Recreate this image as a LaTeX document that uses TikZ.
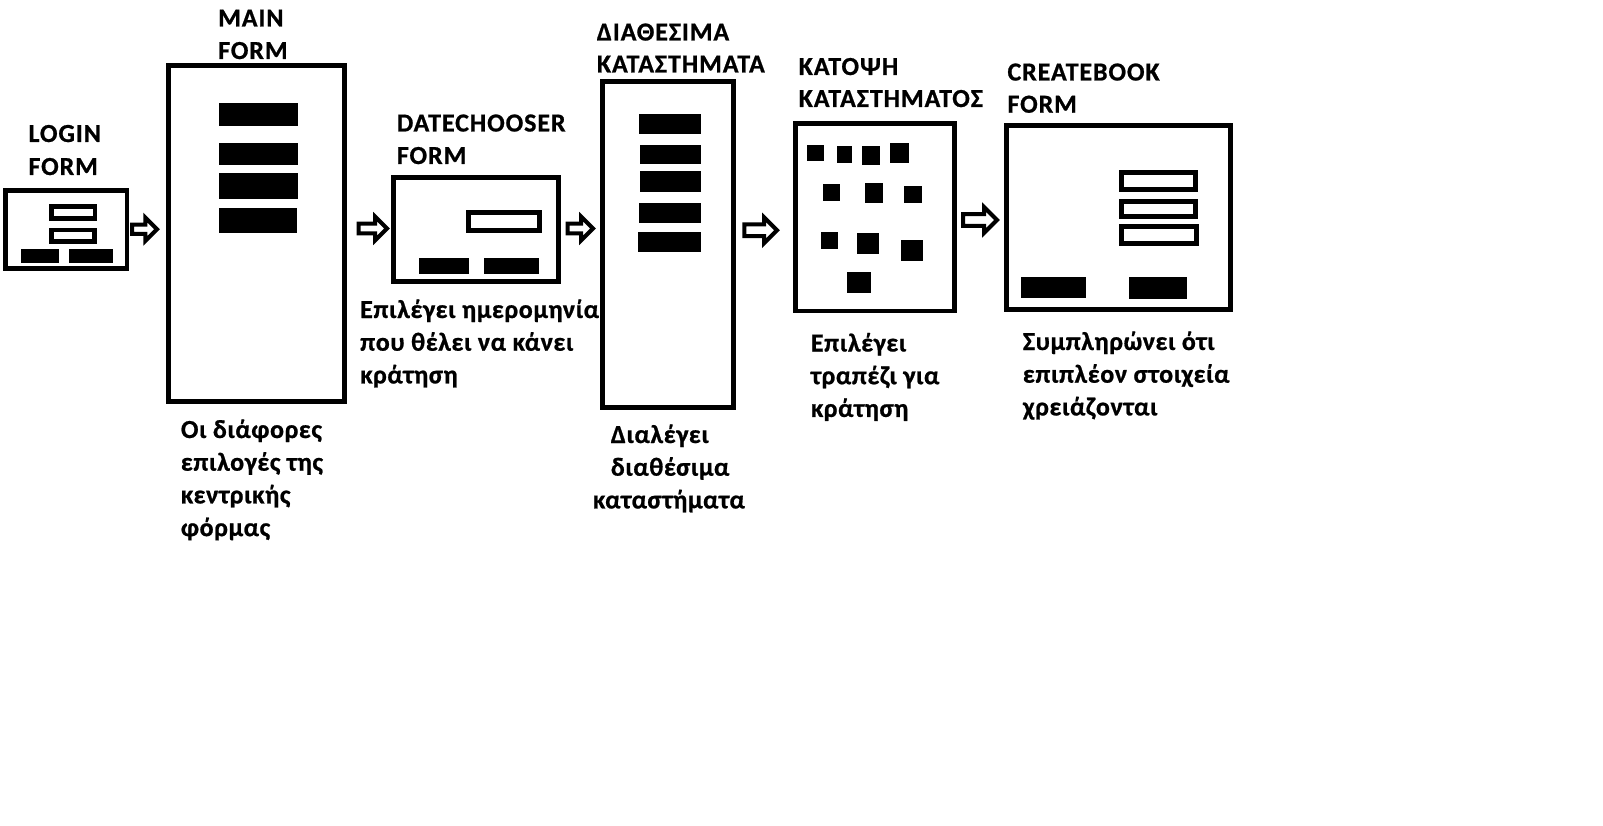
\documentclass[tikz,border=0pt]{standalone}
\usepackage{fontspec}
\setmainfont{Carlito}
\newfontfamily\lblfont{Carlito}[LetterSpace=3.5,BoldFeatures={FakeBold=0.8}]
\newfontfamily\bodyfont{Carlito}[LetterSpace=2.2,BoldFeatures={FakeBold=0.8}]
\usetikzlibrary{shapes.arrows,fit}
\begin{document}
\begin{tikzpicture}[x=1pt,y=-1pt,
  formbox/.style={draw=black,line width=4.8pt,fill=white,inner sep=0pt,outer sep=0pt},
  bar/.style={fill=black,draw=none,inner sep=0pt,outer sep=0pt},
  field/.style={draw=black,line width=4.8pt,fill=white,inner sep=0pt,outer sep=0pt},
  lbl/.style={anchor=base west,inner sep=0pt,font=\lblfont\fontsize{26}{32.7}\selectfont\bfseries},
  desc/.style={anchor=base west,inner sep=0pt,font=\bodyfont\fontsize{26}{32.7}\selectfont\bfseries},
  blockarrow/.style={single arrow,draw=black,line width=4pt,fill=white,inner xsep=0pt,
     single arrow tip angle=90,anchor=west,outer sep=0pt}
]
\useasboundingbox[fill=white] (0,0) rectangle (1603,826);

% ---------- form boxes ----------
\node[formbox,minimum width=121.3pt,minimum height=78pt] (login) at (66.35,229.2) {};
\node[formbox,minimum width=176.2pt,minimum height=335.8pt] (main) at (256.2,233.6) {};
\node[formbox,minimum width=165.5pt,minimum height=104.5pt] (date) at (475.85,229.65) {};
\node[formbox,minimum width=130.9pt,minimum height=326.2pt] (shops) at (667.85,244.5) {};
\node[formbox,minimum width=158.6pt,minimum height=187.5pt] (plan) at (875,217.15) {};
\node[formbox,minimum width=223.9pt,minimum height=183.6pt] (book) at (1118.35,217.5) {};

% ---------- login contents ----------
\node[field,fit={(51.7,206.4) (94.9,218.6)}] (lf1) {};
\node[field,fit={(51.7,230.1) (94.3,241.9)}] (lf2) {};
\node[bar,fit={(21,249.3) (59,262.7)}] (lb1) {};
\node[bar,fit={(69,249.3) (112.7,262.7)}] (lb2) {};

% ---------- main contents ----------
\node[bar,fit={(219,103) (297.7,125.7)}] (mb1) {};
\node[bar,fit={(219,143) (297.7,164.7)}] (mb2) {};
\node[bar,fit={(219,173) (297.7,198.7)}] (mb3) {};
\node[bar,fit={(219,208) (296.7,232.7)}] (mb4) {};

% ---------- datechooser contents ----------
\node[field,fit={(468.4,212.4) (539.3,230.9)}] (df1) {};
\node[bar,fit={(419,257.7) (469,273.7)}] (db1) {};
\node[bar,fit={(484,257.7) (539,273.7)}] (db2) {};

% ---------- shops contents ----------
\node[bar,fit={(639,114) (701,134)}] (sb1) {};
\node[bar,fit={(640,145) (701,164)}] (sb2) {};
\node[bar,fit={(640,171) (701,192)}] (sb3) {};
\node[bar,fit={(639,202.7) (701,222.7)}] (sb4) {};
\node[bar,fit={(637.7,231.7) (701,251.7)}] (sb5) {};

% ---------- plan contents (tables) ----------
\node[bar,fit={(807,145.3) (824,160.7)}] (t1) {};
\node[bar,fit={(836.7,146) (852,162.7)}] (t2) {};
\node[bar,fit={(862,146) (880,164.7)}] (t3) {};
\node[bar,fit={(890,143.3) (909,162.7)}] (t4) {};
\node[bar,fit={(823,184) (840,200.7)}] (t5) {};
\node[bar,fit={(865,182.7) (883,202.7)}] (t6) {};
\node[bar,fit={(904,185.7) (922,202.7)}] (t7) {};
\node[bar,fit={(821,232) (838,249)}] (t8) {};
\node[bar,fit={(857,233.3) (879,253.7)}] (t9) {};
\node[bar,fit={(901,240) (923,260.7)}] (t10) {};
\node[bar,fit={(847,272) (871,292.7)}] (t11) {};

% ---------- createbook contents ----------
\node[field,fit={(1121.4,172.4) (1195.3,189.9)}] (bf1) {};
\node[field,fit={(1121.4,201.4) (1195.3,216.9)}] (bf2) {};
\node[field,fit={(1121.4,226.4) (1196.3,243.3)}] (bf3) {};
\node[bar,fit={(1021,277) (1086,297.7)}] (bb1) {};
\node[bar,fit={(1129,277) (1187,298.7)}] (bb2) {};

% ---------- block arrows ----------
\node[blockarrow,minimum height=25pt,minimum width=17.7pt,inner ysep=2.6pt] (a1) at (132,229.2) {};
\node[blockarrow,minimum height=28.3pt,minimum width=17pt,inner ysep=2.8pt] (a2) at (358.7,228.5) {};
\node[blockarrow,minimum height=25.3pt,minimum width=17pt,inner ysep=2.8pt] (a3) at (567.7,228.5) {};
\node[blockarrow,minimum height=32.7pt,minimum width=21pt,inner ysep=3.8pt] (a4) at (744.3,230.3) {};
\node[blockarrow,minimum height=34pt,minimum width=19.3pt,inner ysep=3.8pt] (a5) at (963,220) {};

% ---------- titles ----------
\node[lbl] (tl1) at (28.3,142) {LOGIN};
\node[lbl] (tl2) at (28.3,175) {FORM};
\node[lbl] (tm1) at (218,26.5) {MAIN};
\node[lbl] (tm2) at (218,59) {FORM};
\node[lbl] (td1) at (396.7,131.5) {DATECHOOSER};
\node[lbl] (td2) at (396.7,164) {FORM};
\node[lbl] (ts1) at (596.7,40.5) {ΔΙΑΘΕΣΙΜΑ};
\node[lbl] (ts2) at (596.7,72.5) {ΚΑΤΑΣΤΗΜΑΤΑ};
\node[lbl] (tp1) at (798.5,75) {ΚΑΤΟΨΗ};
\node[lbl] (tp2) at (798.5,107) {ΚΑΤΑΣΤΗΜΑΤΟΣ};
\node[lbl] (tb1) at (1007.3,80.5) {CREATEBOOK};
\node[lbl] (tb2) at (1007.3,112.7) {FORM};

% ---------- descriptions ----------
\node[desc] (dm1) at (180.7,438) {Οι διάφορες};
\node[desc] (dm2) at (180.7,470.7) {επιλογές της};
\node[desc] (dm3) at (180.7,503.4) {κεντρικής};
\node[desc] (dm4) at (180.7,536.1) {φόρμας};

\node[desc] (dd1) at (360,318) {Επιλέγει ημερομηνία};
\node[desc] (dd2) at (360,350.7) {που θέλει να κάνει};
\node[desc] (dd3) at (360,383.4) {κράτηση};

\node[desc] (ds1) at (610.7,443) {Διαλέγει};
\node[desc] (ds2) at (610.7,475.7) {διαθέσιμα};
\node[desc] (ds3) at (592.7,508.4) {καταστήματα};

\node[desc] (dp1) at (810.7,351.5) {Επιλέγει};
\node[desc] (dp2) at (810.7,384.2) {τραπέζι για};
\node[desc] (dp3) at (810.7,416.9) {κράτηση};

\node[desc] (db1t) at (1022.7,350) {Συμπληρώνει ότι};
\node[desc] (db2t) at (1022.7,382.7) {επιπλέον στοιχεία};
\node[desc] (db3t) at (1022.7,415.4) {χρειάζονται};
\end{tikzpicture}
\end{document}
